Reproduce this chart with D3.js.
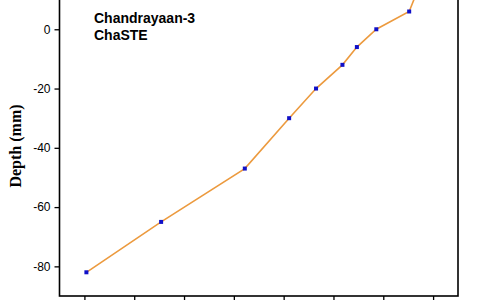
<!DOCTYPE html>
<html>
<head>
<meta charset="utf-8">
<script src="https://cdn.jsdelivr.net/npm/d3@7"></script>
<style>
  html, body { margin: 0; padding: 0; background: #fff; }
  svg { display: block; }
</style>
</head>
<body>
<svg id="chart" width="500" height="300"></svg>
<script>
// readings
const depthMm = [-82, -65, -47, -30, -20, -12, -6, 0, 6, 14];
const tempC = [-9.6, 5.4, 22.2, 31.1, 36.5, 41.8, 44.7, 48.6, 55.2, 57.1];
const xTicks = [-10, 0, 10, 20, 30, 40, 50, 60];
const yTicks = [-80, -60, -40, -20, 0];
const notes = ["Chandrayaan-3", "ChaSTE"];

const plotL = 59.5, plotR = 458, plotB = 296, plotT = -30;

const svg = d3.select("#chart");

const x = d3.scaleLinear().domain([-15, 65]).range([plotL, plotR]);
const y = d3.scaleLinear().domain([-90, 20]).range([plotB, plotT]);

// frame
svg.append("rect")
  .attr("x", plotL).attr("y", plotT)
  .attr("width", plotR - plotL).attr("height", plotB - plotT)
  .attr("fill", "none").attr("stroke", "#000").attr("stroke-width", 1.6);

// y axis, plain hyphen for the minus like the original
const yAxis = svg.append("g")
  .attr("transform", "translate(" + plotL + ",0)")
  .call(d3.axisLeft(y).tickValues(yTicks).tickSize(5).tickPadding(4)
    .tickFormat(d => String(d)));
yAxis.select(".domain").remove();
yAxis.selectAll("line").attr("stroke", "#000").attr("stroke-width", 1.3);
yAxis.selectAll("text")
  .style("font-family", "Arial, 'Liberation Sans', sans-serif")
  .style("font-size", "12px")
  .attr("fill", "#000");

// x axis (labels fall below the crop)
const xAxis = svg.append("g")
  .attr("transform", "translate(0," + plotB + ")")
  .call(d3.axisBottom(x).tickValues(xTicks).tickSize(6).tickFormat(""));
xAxis.select(".domain").remove();
xAxis.selectAll("line").attr("stroke", "#000").attr("stroke-width", 1.3);

// y label
svg.append("text")
  .attr("transform", "translate(21,146) rotate(-90)")
  .attr("text-anchor", "middle")
  .style("font-family", "'Liberation Serif', 'Times New Roman', serif")
  .style("font-weight", "bold")
  .style("font-size", "16px")
  .text("Depth (mm)");

// annotation
svg.append("g").selectAll("text")
  .data(notes)
  .enter()
  .append("text")
  .attr("x", 94)
  .attr("y", (d, i) => 23 + i * 17)
  .style("font-family", "Arial, 'Liberation Sans', sans-serif")
  .style("font-weight", "bold")
  .style("font-size", "14px")
  .text(d => d);

// profile
const pts = depthMm.map((d, i) => ({ t: tempC[i], d: d }));

svg.append("path")
  .datum(pts)
  .attr("fill", "none")
  .attr("stroke", "#ec9a3e")
  .attr("stroke-width", 1.6)
  .attr("d", d3.line().x(p => x(p.t)).y(p => y(p.d)));

svg.append("g").selectAll("rect")
  .data(pts)
  .enter()
  .append("rect")
  .attr("x", p => x(p.t) - 2)
  .attr("y", p => y(p.d) - 2)
  .attr("width", 4)
  .attr("height", 4)
  .attr("fill", "#1010c8");
</script>
</body>
</html>
